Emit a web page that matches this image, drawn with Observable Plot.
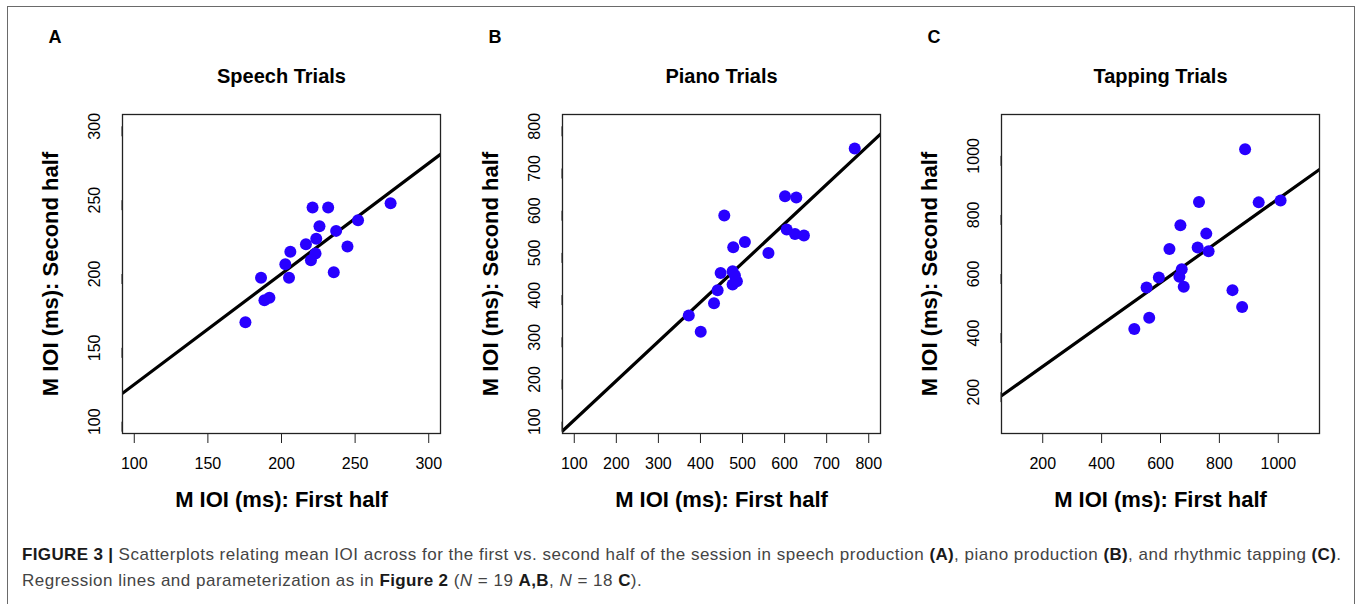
<!DOCTYPE html>
<html>
<head>
<meta charset="utf-8">
<script src="https://cdn.jsdelivr.net/npm/d3@7"></script>
<script src="https://cdn.jsdelivr.net/npm/@observablehq/plot@0.6"></script>
<style>
  html, body { margin: 0; padding: 0; background: #fff; }
  #fig { position: relative; width: 1360px; height: 604px; overflow: hidden; font-family: "Liberation Sans", Arial, sans-serif; }
  #border { position: absolute; left: 7px; top: 6px; width: 1348px; height: 640px; border: 1.5px solid #6a6a6a; box-sizing: border-box; }
  .panel { position: absolute; top: 20px; }
  .panel svg { overflow: visible; }
  #caption { position: absolute; left: 22px; top: 542px; font-size: 17px; letter-spacing: 0.5px; line-height: 26px; color: #444; white-space: nowrap; }
  #caption b { color: #1a1a1a; letter-spacing: 0.35px; }
</style>
</head>
<body>
<div id="fig">
  <div id="border"></div>
  <div id="pA" class="panel" style="left:20px"></div>
  <div id="pB" class="panel" style="left:460px"></div>
  <div id="pC" class="panel" style="left:899px"></div>
  <div id="caption"><b>FIGURE 3 |</b> Scatterplots relating mean IOI across for the first vs. second half of the session in speech production <b>(A)</b>, piano production <b>(B)</b>, and rhythmic tapping <b>(C)</b>.<br>Regression lines and parameterization as in <b>Figure 2</b> (<i>N</i> = 19 <b>A,B</b>, <i>N</i> = 18 <b>C</b>).</div>
</div>
<script>
// ---- Data ----
const panelLetters = ["A", "B", "C"];
const panelTitles = ["Speech Trials", "Piano Trials", "Tapping Trials"];
const xAxisLabel = "M IOI (ms): First half";
const yAxisLabel = "M IOI (ms): Second half";

const speechFirst  = [175.5, 186.1, 188.4, 191.8, 202.6, 206.0, 205.1, 216.6, 221.1, 231.7, 225.8, 223.6, 223.1, 220.0, 237.1, 235.5, 244.8, 252.0, 274.1];
const speechSecond = [167.4, 197.4, 182.3, 183.9, 206.6, 215.0, 197.4, 220.2, 245.0, 245.0, 232.4, 223.8, 213.9, 209.3, 229.2, 201.2, 218.6, 236.4, 247.9];

const pianoFirst  = [372.2, 400.6, 432.2, 440.8, 447.9, 456.6, 477.9, 476.4, 481.9, 486.6, 476.4, 505.6, 561.6, 601.0, 627.8, 605.0, 624.7, 646.0, 766.7];
const pianoSecond = [351.6, 313.0, 380.8, 411.5, 452.5, 588.8, 513.2, 456.4, 446.2, 432.8, 424.9, 525.8, 499.8, 634.5, 631.4, 555.7, 544.7, 541.5, 747.2];

const tappingFirst  = [511.0, 561.7, 552.7, 594.4, 630.4, 667.6, 664.2, 672.1, 678.9, 726.2, 730.7, 755.5, 763.4, 844.5, 877.2, 887.3, 933.5, 1007.9];
const tappingSecond = [413.8, 452.0, 554.4, 588.2, 684.9, 764.8, 590.5, 616.3, 556.7, 689.4, 843.6, 736.7, 677.1, 545.4, 488.0, 1022.5, 842.5, 849.2];

const lineIntercepts = [50.3, 10.9, 145.2];
const lineSlopes     = [0.749, 0.9306, 0.7092];

const axisLimits = [[100, 300], [100, 800], [100, 1100]];
const xTickValues = [[100, 150, 200, 250, 300], [100, 200, 300, 400, 500, 600, 700, 800], [200, 400, 600, 800, 1000]];
const yTickValues = [[100, 150, 200, 250, 300], [100, 200, 300, 400, 500, 600, 700, 800], [200, 400, 600, 800, 1000]];

const firstHalves  = [speechFirst, pianoFirst, tappingFirst];
const secondHalves = [speechSecond, pianoSecond, tappingSecond];

// R-style 4% axis extension
function extend([a, b]) { const d = (b - a) * 0.04; return [a - d, b + d]; }

function panel(i) {
  const pts = firstHalves[i].map((x, j) => ({x, y: secondHalves[i][j]}));
  const dom = extend(axisLimits[i]);
  const fit = dom.map(x => ({x, y: lineIntercepts[i] + lineSlopes[i] * x}));
  return Plot.plot({
    width: 430, height: 510,
    marginLeft: 102, marginRight: 10, marginTop: 94, marginBottom: 97,
    style: {fontFamily: "'Liberation Sans', Arial, sans-serif", color: "#000", background: "transparent", overflow: "visible"},
    x: {domain: dom},
    y: {domain: dom},
    marks: [
      Plot.axisX({ticks: xTickValues[i], tickSize: 10, tickPadding: 14, fontSize: 16, label: null, tickFormat: d => String(d), stroke: "#222"}),
      Plot.axisY({ticks: yTickValues[i], tickSize: 10, tickPadding: 18, fontSize: 16, label: null, rotate: -90, textAnchor: "middle", lineAnchor: "middle", tickFormat: d => String(d), stroke: "#222"}),
      Plot.line(fit, {x: "x", y: "y", stroke: "#000", strokeWidth: 3.2, clip: true}),
      Plot.dot(pts, {x: "x", y: "y", r: 6, fill: "#2800ff", stroke: "none"}),
      Plot.frame({stroke: "#222", strokeWidth: 1.3}),
      Plot.text([xAxisLabel], {text: d => d, frameAnchor: "bottom", dy: 66, textAnchor: "middle", lineAnchor: "middle", fontSize: 22, fontWeight: "bold"}),
      Plot.text([yAxisLabel], {text: d => d, frameAnchor: "left", dx: -72, rotate: -90, textAnchor: "middle", lineAnchor: "middle", fontSize: 22, fontWeight: "bold"}),
      Plot.text([panelTitles[i]], {text: d => d, frameAnchor: "top", dy: -38, textAnchor: "middle", lineAnchor: "middle", fontSize: 20, fontWeight: "bold"}),
      Plot.text([panelLetters[i]], {text: d => d, frameAnchor: "top-left", dx: -74, dy: -77, textAnchor: "start", lineAnchor: "middle", fontSize: 18, fontWeight: "bold"})
    ]
  });
}

document.getElementById("pA").appendChild(panel(0));
document.getElementById("pB").appendChild(panel(1));
document.getElementById("pC").appendChild(panel(2));
</script>
</body>
</html>
